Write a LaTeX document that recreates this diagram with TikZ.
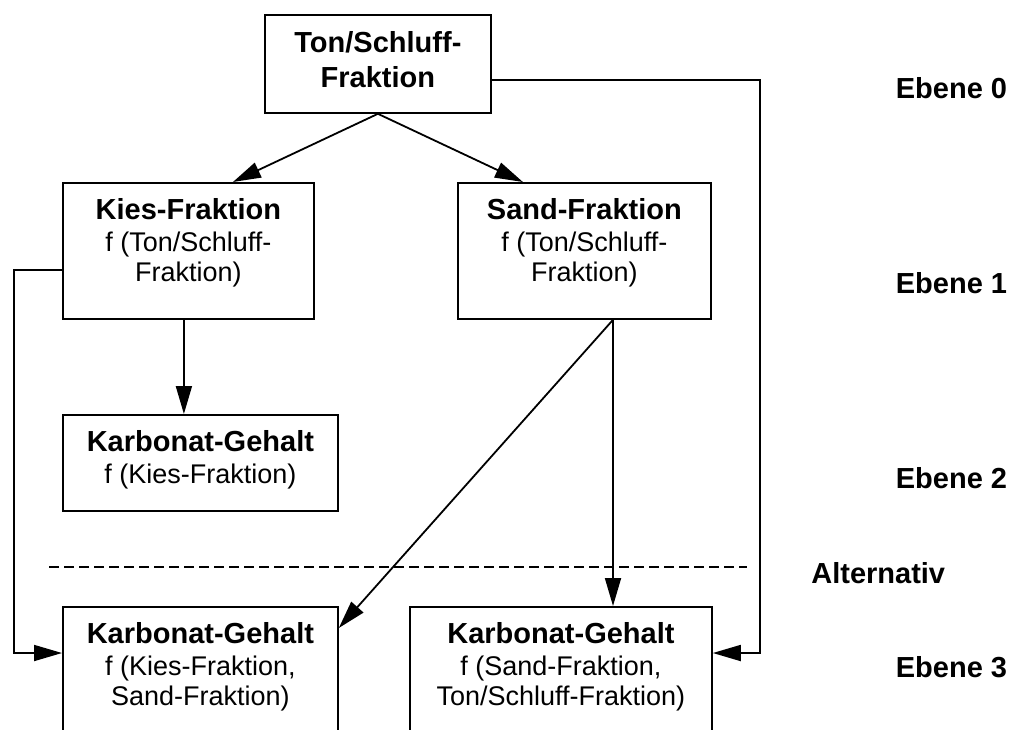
\documentclass[tikz,border=0pt]{standalone}
\usepackage{fontspec}
\setmainfont{Liberation Sans}
\usetikzlibrary{arrows.meta,calc}
\newcommand{\bxc}[4]{\parbox[c][#2][t]{#1}{\centering\fontsize{13.5}{15}\selectfont\rule{0pt}{18.5pt}{\fontsize{14.5}{15}\selectfont\bfseries #3}\\[1pt]#4\par}}
\begin{document}
\begin{tikzpicture}[x=0.5pt,y=-0.5pt,line width=0.9pt,
  box/.style={draw,line width=0.9pt,inner sep=0pt,anchor=north west},
  arr/.style={-{Triangle[length=14pt,width=8pt]}},
  lvl/.style={anchor=east,font=\fontsize{14.5}{17}\selectfont\bfseries,inner sep=0pt}]
\useasboundingbox (0,0) rectangle (1015,729);
\clip (0,0) rectangle (1015,729);
\node[box] (top) at (264,14) {\parbox[c][49pt][t]{113pt}{\centering\fontsize{14.5}{17.5}\selectfont\bfseries\rule{0pt}{19pt}Ton/Schluff-\\Fraktion\par}};
\node[box] (kies) at (62,182) {\bxc{125.5pt}{68pt}{Kies-Fraktion}{f (Ton/Schluff-\\Fraktion)}};
\node[box] (sand) at (457,182) {\bxc{126.5pt}{68pt}{Sand-Fraktion}{f (Ton/Schluff-\\Fraktion)}};
\node[box] (karb2) at (62,414) {\bxc{137.5pt}{48pt}{Karbonat-Gehalt}{f (Kies-Fraktion)}};
\node[box] (kb3l) at (62,606) {\bxc{137.5pt}{90pt}{Karbonat-Gehalt}{f (Kies-Fraktion,\\Sand-Fraktion)}};
\node[box] (kb3r) at (409,606) {\bxc{151pt}{90pt}{Karbonat-Gehalt}{f (Sand-Fraktion,\\Ton/Schluff-Fraktion)}};
\node[lvl] (e0) at (1008,88) {Ebene 0};
\node[lvl] (e1) at (1008,283) {Ebene 1};
\node[lvl] (e2) at (1008,478) {Ebene 2};
\node[lvl] (alt) at (946,573) {Alternativ};
\node[lvl] (e3) at (1008,667) {Ebene 3};
\draw[arr] (top.south) -- ($(kies.north)+(44.5,0)$);
\draw[arr] (top.south) -- ($(sand.north)+(-61.5,0)$);
\draw[arr] ($(top.east)+(0,16)$) -- ++(268,0) |- ($(kb3r.north east)+(0,47)$);
\draw[arr] ($(kies.north west)+(0,88)$) -- ++(-48,0) |- ($(kb3l.north west)+(0,47)$);
\draw[arr] ($(kies.south)+(-4.5,0)$) coordinate (k1) -- (k1 |- karb2.north);
\draw[arr] ($(sand.south west)+(156,0)$) coordinate (s1) -- (s1 |- kb3r.north);
\draw[arr] (s1) -- ($(kb3l.north east)+(0,22)$);
\coordinate (d1) at (49,567);
\coordinate (d2) at (747,567);
\draw[dash pattern=on 5pt off 2.5pt] (d1) -- (d2);
\end{tikzpicture}
\end{document}
